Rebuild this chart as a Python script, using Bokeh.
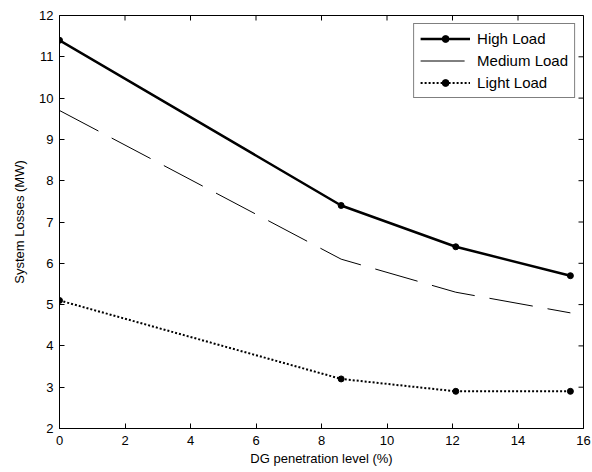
import math
from bokeh.plotting import figure
from bokeh.models import Range1d, FixedTicker, Legend, LegendItem
from bokeh.embed import file_html
from bokeh.resources import INLINE

dg_level = [0, 8.6, 12.1, 15.6]
high_load = [11.4, 7.4, 6.4, 5.7]
medium_load = [9.7, 6.1, 5.3, 4.8]
light_load = [5.1, 3.2, 2.9, 2.9]
x_ticks = [0, 2, 4, 6, 8, 10, 12, 14, 16]
y_ticks = [2, 3, 4, 5, 6, 7, 8, 9, 10, 11, 12]

FONT = "Liberation Sans"

p = figure(width=592, height=472, output_backend="svg", toolbar_location=None,
           x_range=Range1d(x_ticks[0], x_ticks[-1]), y_range=Range1d(y_ticks[0], y_ticks[-1]),
           min_border_left=59, min_border_right=9, min_border_top=15, min_border_bottom=44)
p.xgrid.visible = False
p.ygrid.visible = False
p.outline_line_color = "black"
p.outline_line_width = 1
p.background_fill_color = "white"

for ax in (p.xaxis[0], p.yaxis[0]):
    ax.major_tick_in = 5
    ax.major_tick_out = 0
    ax.minor_tick_in = 0
    ax.minor_tick_out = 0
    ax.axis_line_color = "black"
    ax.major_tick_line_color = "black"
    ax.major_label_text_font = FONT
    ax.major_label_text_font_size = "13px"
    ax.major_label_text_color = "black"
    ax.axis_label_text_font = FONT
    ax.axis_label_text_font_size = "13px"
    ax.axis_label_text_font_style = "normal"
    ax.axis_label_text_color = "black"

p.xaxis[0].ticker = FixedTicker(ticks=x_ticks)
p.yaxis[0].ticker = FixedTicker(ticks=y_ticks)
p.xaxis[0].axis_label = "DG penetration level (%)"
p.yaxis[0].axis_label = "System Losses (MW)"
p.xaxis[0].major_label_standoff = 7
p.xaxis[0].axis_label_standoff = 3
p.yaxis[0].major_label_standoff = 6
p.yaxis[0].axis_label_standoff = 9

# inward ticks on the top and right edges of the box
p.ray(x=x_ticks, y=[y_ticks[-1]] * len(x_ticks), length=5, length_units="screen",
      angle=-math.pi / 2, line_color="black", line_width=1)
p.ray(x=[x_ticks[-1]] * len(y_ticks), y=y_ticks, length=5, length_units="screen",
      angle=math.pi, line_color="black", line_width=1)

r_high = p.line(dg_level, high_load, line_color="black", line_width=2.5)
c_high = p.scatter(dg_level, high_load, size=6, color="black")
r_med = p.line(dg_level, medium_load, line_color="black", line_width=1, line_dash="44 15")
r_light = p.line(dg_level, light_load, line_color="black", line_width=2, line_dash="2 2")
c_light = p.scatter(dg_level, light_load, size=6, color="black")

legend = Legend(items=[
    LegendItem(label="High Load", renderers=[r_high, c_high]),
    LegendItem(label="Medium Load", renderers=[r_med]),
    LegendItem(label="Light Load", renderers=[r_light, c_light]),
], location="top_right")
legend.label_text_font = FONT
legend.label_text_font_size = "15px"
legend.label_text_color = "black"
legend.border_line_color = "black"
legend.border_line_width = 1
legend.background_fill_alpha = 1
legend.glyph_width = 50
legend.glyph_height = 17
legend.label_height = 17
legend.spacing = 5
legend.padding = 6
legend.margin = 8
legend.label_standoff = 7
p.add_layout(legend, "center")

open("out.html", "w").write(file_html(p, INLINE))
